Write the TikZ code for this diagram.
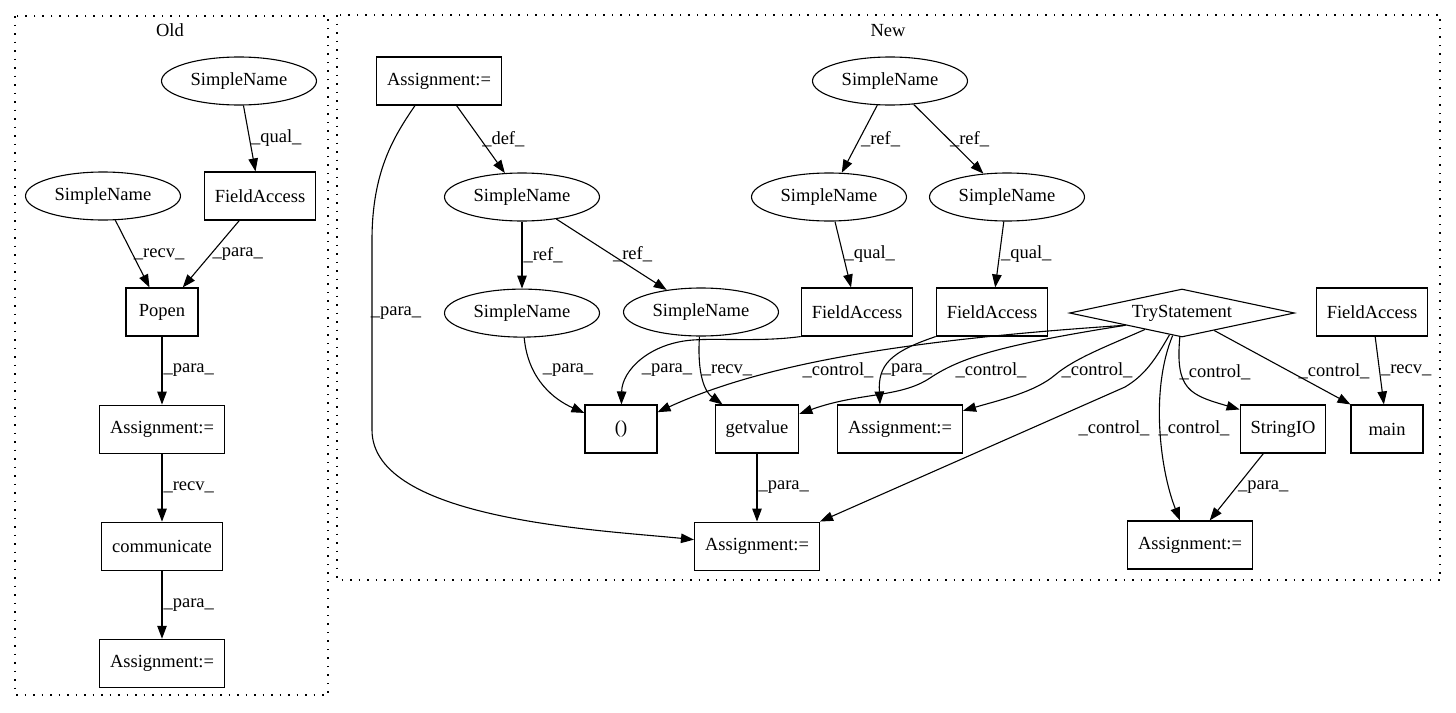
\documentclass[tikz,border=0pt]{standalone}
\usepackage{fontspec}
\setmainfont{Liberation Serif}
\usetikzlibrary{positioning}
\usetikzlibrary{arrows.meta}
\usetikzlibrary{shapes.geometric}

\begin{document}
\begin{tikzpicture}
			[x=1pt,y=-1pt,
			 font=\fontsize{18.5}{22}\selectfont,
			 box/.style={rectangle,draw,line width=1.1pt,minimum width=72pt,minimum height=48pt,inner xsep=10.5pt},
			 oval/.style={ellipse,draw,line width=1.1pt,minimum width=155pt,minimum height=48pt,inner sep=0pt},
			 cond/.style={diamond,draw,line width=1.1pt,aspect=4.7,minimum width=225pt,minimum height=48pt,inner sep=0pt},
			 pull/.style={{Triangle[length=13pt,width=9.5pt]}-,line width=1.1pt},
			 push/.style={-{Triangle[length=13pt,width=9.5pt]},line width=1.1pt},
			 elabel/.style={inner sep=1pt},
			 cluster/.style={draw,line width=1.2pt,dash pattern=on 1.5pt off 7pt}]
			\useasboundingbox (0,0) rectangle (1456,712);

			% clusters
			\draw [cluster] (15,16) rectangle (328,695);
			\node (oldtitle) at (170,30) {Old};
			\draw [cluster] (337,15) rectangle (1440,580);
			\node (newtitle) at (888,31) {New};

			% old
			\node [oval] (osn1) at (239,81) {SimpleName};
			\node [box] (ofa) at (260,196) {FieldAccess}
			  edge [pull] node [elabel,right] {\_qual\_} (osn1);
			\node [oval] (osn2) at (103,196) {SimpleName};
			\node [box] (popen) at (162,312) {Popen}
			  edge [pull] node [elabel,right] {\_recv\_} (osn2)
				edge [pull] node [elabel,right] {\_para\_} (ofa);
			\node [box] (oasg1) [below=68pt of popen] {Assignment:=}
			  edge [pull] node [elabel,right] {\_para\_} (popen);
			\node [box] (comm) [below=68pt of oasg1] {communicate}
			  edge [pull] node [elabel,right] {\_recv\_} (oasg1);
			\node [box] (oasg2) [below=68pt of comm] {Assignment:=}
			  edge [pull] node [elabel,right] {\_para\_} (comm);

			% new
			\node [box] (atop) at (439,81) {Assignment:=};
			\node [oval] (sntop) at (890,81) {SimpleName};
			\node [oval] (sndef) at (522,197) {SimpleName}
			  edge [pull] node [elabel,right] {\_def\_} (atop);
			\node [oval] (sn3) at (829,197) {SimpleName}
			  edge [pull] node [elabel,right] {\_ref\_} (sntop);
			\node [oval] (sn4) at (1007,197) {SimpleName}
			  edge [pull] node [elabel,right] {\_ref\_} (sntop);
			\node [oval] (sn1) [below=67pt of sndef] {SimpleName}
			  edge [pull] node [elabel,right] {\_ref\_} (sndef);
			\node [oval] (sn2) at (701,312) {SimpleName}
			  edge [pull] node [elabel,right] {\_ref\_} (sndef);
			\node [box] (fa1) at (857,312) {FieldAccess}
			  edge [pull] node [elabel,right] {\_qual\_} (sn3);
			\node [box] (fa2) at (992,312) {FieldAccess}
			  edge [pull] node [elabel,right] {\_qual\_} (sn4);
			\node [cond] (try) at (1182,313) {TryStatement};
			\node [box] (fa3) at (1372,312) {FieldAccess};
			\node [box] (paren) at (621,429) {()};
			\node [box] (getv) at (757,429) {getvalue};
			\node [box] (amid) at (900,429) {Assignment:=};
			\node [box] (sio) at (1283,429) {StringIO};
			\node [box] (main) at (1387,429) {main}
			  edge [pull] node [elabel,right] {\_recv\_} (fa3);
			\node [box] (abm) [below=68pt of getv] {Assignment:=}
			  edge [pull] node [elabel,right] {\_para\_} (getv);
			\node [box] (abr) at (1190,545) {Assignment:=}
			  edge [pull] node [elabel,right] {\_para\_} (sio);

			% curved ones
			\draw [push] ([xshift=-24pt]atop.south) .. controls (395,135) and (372,170) .. (372,240)
			  -- (372,430) .. controls (372,520) and (600,530) .. (abm)
			  node [elabel] at (396,313) {\_para\_};
			\draw [push] (sn1) .. controls (528,380) and (555,400) .. (paren)
			  node [elabel] at (568,370) {\_para\_};
			\draw [push] (fa1.south west) .. controls (760,342) and (720,338) .. (693,340)
			  .. controls (650,343) and (622,370) .. (paren)
			  node [elabel] at (667,370) {\_para\_};
			\draw [push] (sn2) .. controls (697,375) and (705,392) .. (getv)
			  node [elabel] at (727,370) {\_recv\_};
			\draw [push] (try.south west) .. controls (900,340) and (760,365) .. (paren)
			  node [elabel] at (838,370) {\_control\_};
			\draw [push] (try.south west) .. controls (1000,345) and (960,358) .. (930,378)
			  .. controls (900,398) and (860,392) .. (getv)
			  node [elabel] at (991,370) {\_control\_};
			\draw [push] (try) .. controls (1110,345) and (1075,358) .. (1055,375)
			  .. controls (1035,392) and (1000,400) .. (amid)
			  node [elabel] at (1097,370) {\_control\_};
			\draw [push] (fa2.south west) .. controls (890,352) and (878,365) .. ([xshift=-20pt]amid.north)
			  node [elabel] at (907,370) {\_para\_};
			\draw [push] (try) .. controls (1175,390) and (1190,395) .. ([yshift=-5pt]sio.north west)
			  node [elabel] at (1215,372) {\_control\_};
			\draw [push] (try) -- (main.north west)
			  node [elabel] at (1334,371) {\_control\_};
			\draw [push] (try) .. controls (1150,390) and (1160,470) .. ([xshift=-10pt]abr.north)
			  node [elabel] at (1194,428) {\_control\_};
			\draw [push] (try) .. controls (1155,360) and (1145,375) .. (1125,387) -- (abm.north east)
			  node [elabel] at (1114,428) {\_control\_};
		\end{tikzpicture}
\end{document}
